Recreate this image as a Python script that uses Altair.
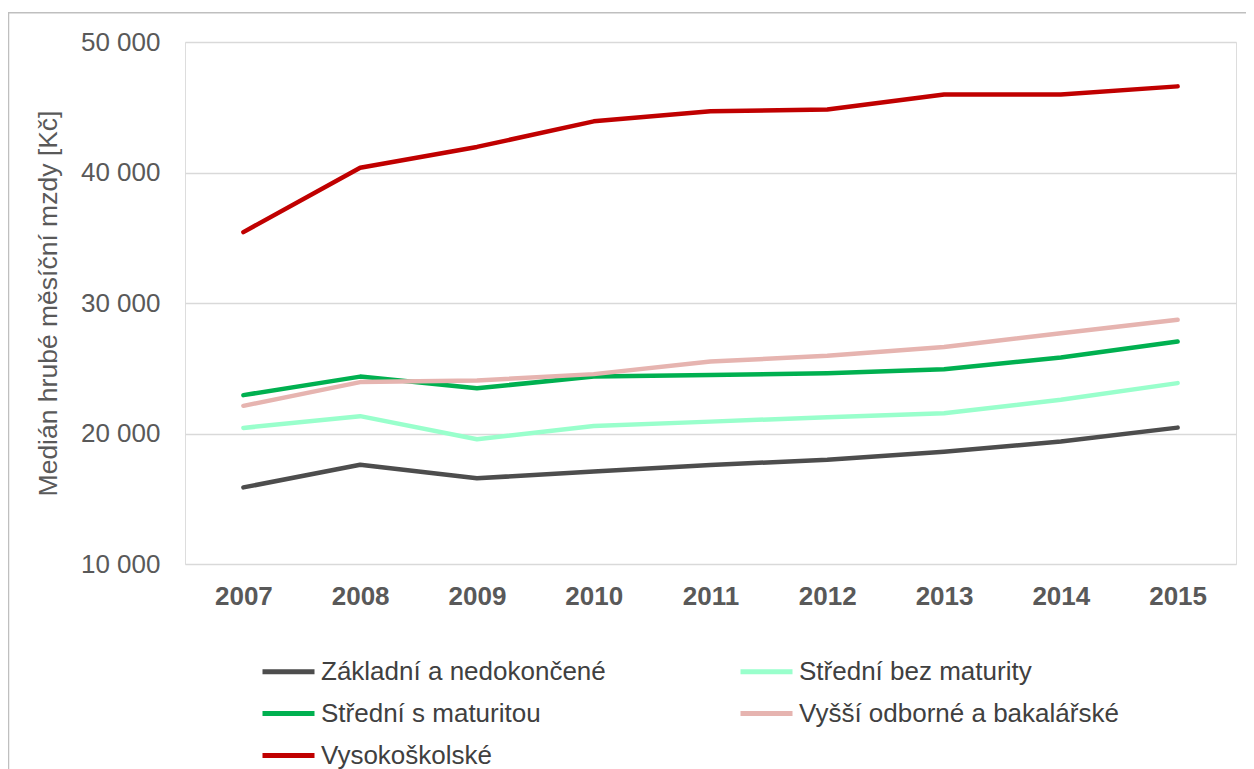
import altair as alt
import pandas as pd

years = ["2007", "2008", "2009", "2010", "2011", "2012", "2013", "2014", "2015"]
series_names = [
    "Základní a nedokončené",
    "Střední bez maturity",
    "Střední s maturitou",
    "Vyšší odborné a bakalářské",
    "Vysokoškolské",
]
zakladni = [15870, 17610, 16570, 17080, 17590, 17980, 18610, 19380, 20450]
stredni_bez = [20430, 21330, 19560, 20580, 20910, 21250, 21560, 22580, 23860]
stredni_s = [22940, 24360, 23470, 24360, 24490, 24620, 24930, 25820, 27050]
vyssi = [22120, 23940, 24060, 24550, 25510, 25950, 26620, 27690, 28710]
vysoko = [35430, 40370, 41960, 43920, 44690, 44820, 45970, 45970, 46600]
colors = ["#4d4d4d", "#99ffcc", "#00b050", "#e6b4b0", "#c00000"]
y_ticks = [10000, 20000, 30000, 40000, 50000]

all_series = [zakladni, stredni_bez, stredni_s, vyssi, vysoko]
rows = []
for order, (name, vals) in enumerate(zip(series_names, all_series)):
    for yr, v in zip(years, vals):
        rows.append({"rok": yr, "vzdělání": name, "mzda": v, "poradi": order})
df = pd.DataFrame(rows)

FONT = "Liberation Sans"
GRAY = "#595959"

lines = alt.Chart(df).mark_line(strokeWidth=4.5, strokeCap="round", strokeJoin="round").encode(
    x=alt.X(
        "rok:N",
        sort=years,
        scale=alt.Scale(type="point", padding=0.5),
        axis=alt.Axis(
            title=None,
            labelAngle=0,
            ticks=False,
            domain=False,
            grid=False,
            labelFont=FONT,
            labelFontSize=26,
            labelFontWeight="bold",
            labelColor=GRAY,
            labelPadding=19,
        ),
    ),
    y=alt.Y(
        "mzda:Q",
        scale=alt.Scale(domain=[10000, 50000], nice=False, zero=False),
        axis=alt.Axis(
            title="Medián hrubé měsíční mzdy [Kč]",
            values=y_ticks,
            labelExpr="replace(format(datum.value, ','), ',', ' ')",
            ticks=False,
            domain=False,
            grid=True,
            gridColor="#d9d9d9",
            gridWidth=1.3,
            labelFont=FONT,
            labelFontSize=26,
            labelColor=GRAY,
            labelPadding=25,
            titleFont=FONT,
            titleFontSize=26.5,
            titleFontWeight="normal",
            titleColor=GRAY,
            titleX=-137,
            titleY=261,
            titleAngle=270,
            titleAlign="center",
            titleBaseline="middle",
        ),
    ),
    color=alt.Color(
        "vzdělání:N",
        scale=alt.Scale(domain=series_names, range=colors),
        legend=alt.Legend(
            title=None,
            orient="none",
            direction="horizontal",
            legendX=75,
            legendY=601,
            columns=2,
            columnPadding=124,
            rowPadding=0,
            padding=0,
            gridAlign="each",
            symbolType="stroke",
            symbolSize=2704,
            symbolStrokeWidth=5,
            labelOffset=4,
            labelFont=FONT,
            labelFontSize=26,
            labelColor="#404040",
            labelLimit=500,
        ),
    ),
    order=alt.Order("poradi:Q"),
)

frame = alt.Chart(alt.Data(values=[{"a": 1}])).mark_rect(
    fill=None, stroke="#bfbfbf", strokeWidth=1.5
).encode(
    x=alt.value(-176.5),
    x2=alt.value(1100),
    y=alt.value(-29.3),
    y2=alt.value(800),
)

chart = alt.layer(frame, lines).properties(
    width=1051,
    height=522,
    autosize=alt.AutoSizeParams(type="none"),
    padding={"left": 177, "top": 34, "right": 10, "bottom": 205},
).configure_view(stroke=None).configure(background="white")

chart.save("out.html", embed_options={"renderer": "svg", "actions": False})
